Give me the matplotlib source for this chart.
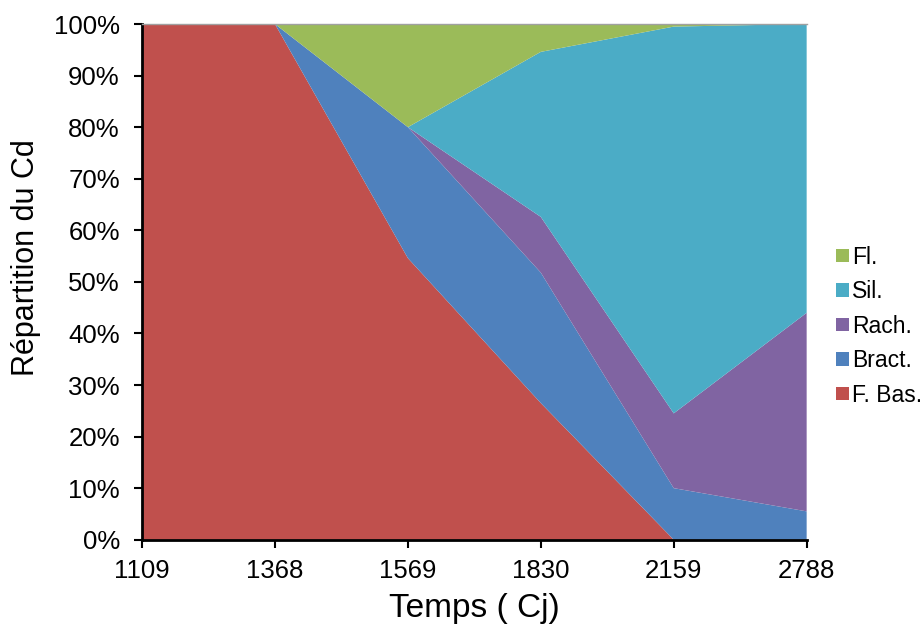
import matplotlib
matplotlib.use("Agg")
import matplotlib.pyplot as plt
import numpy as np

plt.rcParams['font.family'] = ['Liberation Sans', 'DejaVu Sans']

temps = ['1109', '1368', '1569', '1830', '2159', '2788']
f_bas = [100, 100, 54.6, 26.5, 0, 0]
bract = [0, 0, 25.4, 25.3, 10.0, 5.5]
rach = [0, 0, 0, 10.8, 14.5, 38.5]
sil = [0, 0, 0, 32.0, 75.0, 56.0]
fl = [0, 0, 20.0, 5.4, 0.5, 0]

labels = ['F. Bas.', 'Bract.', 'Rach.', 'Sil.', 'Fl.']
colors = ['#C0504D', '#4F81BD', '#8064A2', '#4BACC6', '#9BBB59']

fig = plt.figure(figsize=(9.24, 6.32), dpi=100)
ax = fig.add_axes([0.1537, 0.146, 0.7193, 0.816])

x = np.arange(len(temps))
ax.stackplot(x, f_bas, bract, rach, sil, fl, labels=labels, colors=colors)

ax.set_xlim(0, len(temps) - 1)
ax.set_ylim(0, 100)
ax.set_xticks(x)
ax.set_xticklabels(temps, fontsize=18.5)
ax.set_yticks(np.arange(0, 101, 10))
ax.set_yticklabels([f'{v}%' for v in range(0, 101, 10)], fontsize=18.5)
ax.tick_params(axis='both', direction='out', length=6, width=1.5, colors='black')
ax.tick_params(axis='x', pad=8)
ax.tick_params(axis='y', pad=10)

ax.spines['right'].set_visible(False)
ax.spines['top'].set_color('#A0A0A0')
ax.spines['top'].set_linewidth(1)
ax.spines['left'].set_linewidth(2)
ax.spines['bottom'].set_linewidth(2)

ax.set_xlabel('Temps ( Cj)', fontsize=24)
ax.xaxis.set_label_coords(0.5, -0.103)
ax.set_ylabel('Répartition du Cd', fontsize=22)
ax.yaxis.set_label_coords(-0.152, 0.547)

h, l = ax.get_legend_handles_labels()
fig.legend(h[::-1], l[::-1], loc='center left', bbox_to_anchor=(0.905, 0.484),
           frameon=False, fontsize=16.5, handlelength=0.55, handleheight=0.55,
           handletextpad=0.15, labelspacing=0.5, borderpad=0, borderaxespad=0)

fig.savefig('out.png', dpi=100)
